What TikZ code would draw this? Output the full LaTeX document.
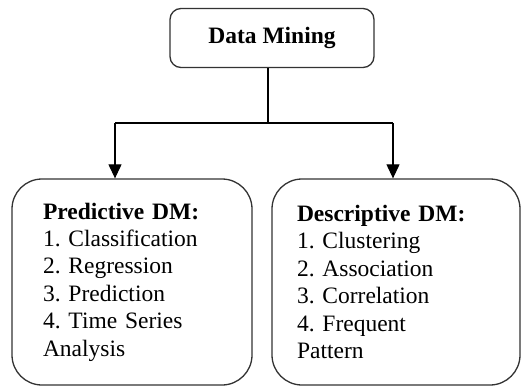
\documentclass[tikz,border=0pt]{standalone}
\usepackage{fontspec}
\setmainfont{Liberation Serif}
\frenchspacing
\usetikzlibrary{arrows.meta}
\begin{document}
\begin{tikzpicture}[x=1pt,y=-1pt,
  box/.style={draw=black!80, line width=1.3pt, fill=white},
  conn/.style={draw=black, line width=1.1pt},
  arr/.style={conn, -{Triangle[length=14pt,width=13pt]}},
  txt/.style={font=\fontsize{23.5}{27.4}\selectfont}
]
\useasboundingbox (0,0) rectangle (522,388);
\node[box, txt, rounded corners=11pt, minimum width=204pt, minimum height=59pt, inner sep=0pt]
  (top) at (272,38) {\textbf{Data Mining}};
\node[box, txt, rounded corners=30pt, minimum width=240pt, minimum height=206pt,
  text width=178pt, inner xsep=31pt, align=left]
  (left) at (132,282) {\textbf{Predictive DM:}\\1. Classification\\2. Regression\\3. Prediction\\4. Time Series\\Analysis};
\node[box, txt, rounded corners=30pt, minimum width=248pt, minimum height=206pt,
  text width=198pt, inner xsep=25pt, align=left]
  (right) at (396,282) {\textbf{Descriptive DM:}\\1. Clustering\\2. Association\\3. Correlation\\4. Frequent\\Pattern};
\coordinate (j) at (268,123);
\coordinate (la) at (115,123);
\coordinate (ra) at (393,123);
\draw[conn] (top.south -| j) -- (j);
\draw[conn] (la) -- (ra);
\draw[arr] (la) -- (la |- left.north);
\draw[arr] (ra) -- (ra |- right.north);
\end{tikzpicture}
\end{document}
